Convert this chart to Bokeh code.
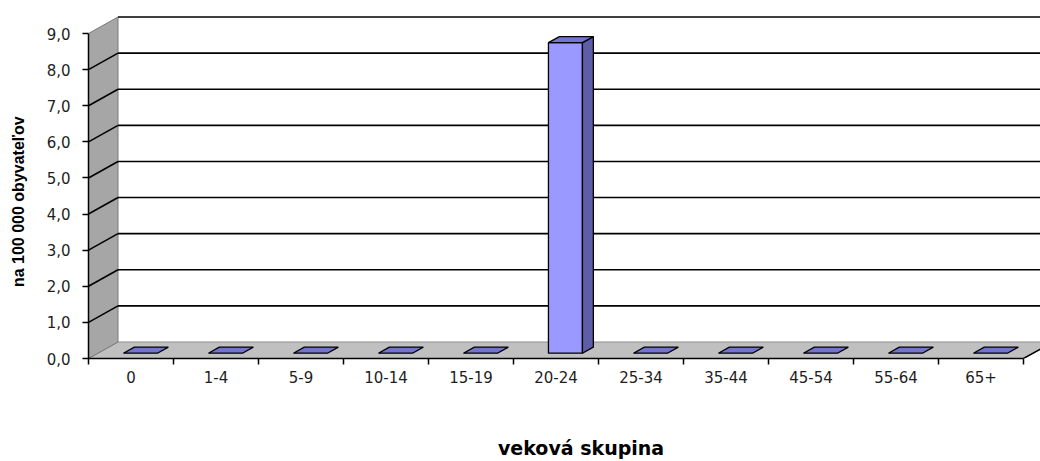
from bokeh.plotting import figure
from bokeh.models import Range1d, FixedTicker, LinearAxis
from bokeh.embed import file_html
from bokeh.resources import INLINE

# ---------------- data ----------------
categories = ["0", "1-4", "5-9", "10-14", "15-19", "20-24",
              "25-34", "35-44", "45-54", "55-64", "65+"]
values = [0, 0, 0, 0, 0, 8.6, 0, 0, 0, 0, 0]
y_ticks = [0, 1, 2, 3, 4, 5, 6, 7, 8, 9]
y_tick_labels = ["0,0", "1,0", "2,0", "3,0", "4,0", "5,0",
                 "6,0", "7,0", "8,0", "9,0"]
y_title = "na 100 000 obyvateľov"
x_title = "veková skupina"

# ---------------- layout ----------------
W, H = 1040, 461
B_LEFT, B_BOTTOM = 88, 103
PX_CAT = 85.0          # pixels per category
PX_UNIT = 36.11        # pixels per value unit
frame_w = W - B_LEFT
frame_h = H - B_BOTTOM

n = len(categories)
x0, x1 = -0.5, n - 0.5
ymin, ymax = y_ticks[0], y_ticks[-1]
DX = 29.5 / PX_CAT     # depth offset (oblique projection)
DY = 16.5 / PX_UNIT
BW = 0.40              # bar width (categories)
F_FRONT, F_BACK = 0.32, 0.69   # bar depth fractions
NBSP = "\u00a0"

p = figure(width=W, height=H,
           x_range=Range1d(x0, x0 + frame_w / PX_CAT),
           y_range=Range1d(ymin, ymin + frame_h / PX_UNIT),
           output_backend="svg", toolbar_location=None,
           min_border_left=B_LEFT, min_border_right=0,
           min_border_top=0, min_border_bottom=B_BOTTOM)
p.outline_line_color = None
p.xgrid.visible = False
p.ygrid.visible = False
p.background_fill_color = "white"

WALL = "#A6A6A6"
FLOOR = "#C0C0C0"

# floor
p.patch([x0, x1, x1 + DX, x0 + DX], [ymin, ymin, ymin + DY, ymin + DY],
        fill_color=FLOOR, line_color="#8C8C8C", line_width=1)
p.segment(x0=[x1], y0=[ymin], x1=[x1 + DX], y1=[ymin + DY],
          line_color="black", line_width=1.5)

# left wall
p.patch([x0, x0 + DX, x0 + DX, x0], [ymin, ymin + DY, ymax + DY, ymax],
        fill_color=WALL, line_color="#7A7A7A", line_width=1)

# back-wall gridlines and wall diagonals
far = x0 + frame_w / PX_CAT + 1
grid_vals = [t for t in y_ticks if t > ymin]
p.segment(x0=[x0 + DX] * len(grid_vals), y0=[t + DY for t in grid_vals],
          x1=[far] * len(grid_vals), y1=[t + DY for t in grid_vals],
          line_color="black", line_width=1.6)
diag_vals = [t for t in y_ticks if ymin < t < ymax]
p.segment(x0=[x0] * len(diag_vals), y0=diag_vals,
          x1=[x0 + DX] * len(diag_vals), y1=[t + DY for t in diag_vals],
          line_color="black", line_width=1.6)

# bars
FRONT_C, TOP_C, SIDE_C = "#9999FF", "#7474D0", "#5E5EA8"
fx, fy = DX * F_FRONT, DY * F_FRONT
bx, by = DX * F_BACK, DY * F_BACK
ddx, ddy = bx - fx, by - fy
front_xs, front_ys, top_xs, top_ys, side_xs, side_ys = [], [], [], [], [], []
for i, v in enumerate(values):
    l = i - BW / 2 + fx
    r = i + BW / 2 + fx
    top_xs.append([l, r, r + ddx, l + ddx])
    top_ys.append([v + fy, v + fy, v + by, v + by])
    if v > 0:
        front_xs.append([l, r, r, l])
        front_ys.append([fy, fy, v + fy, v + fy])
        side_xs.append([r, r + ddx, r + ddx, r])
        side_ys.append([fy, by, v + by, v + fy])
p.patches(front_xs, front_ys, fill_color=FRONT_C, line_color="black", line_width=1.3)
p.patches(side_xs, side_ys, fill_color=SIDE_C, line_color="black", line_width=1.3)
p.patches(top_xs, top_ys, fill_color=TOP_C, line_color="black", line_width=1.3)

# y axis
ya = p.yaxis[0]
ya.ticker = FixedTicker(ticks=y_ticks, minor_ticks=[])
ya.bounds = (ymin, ymax)
ya.major_label_overrides = {t: s for t, s in zip(y_ticks, y_tick_labels)}
ya.axis_line_color = "black"
ya.axis_line_width = 1.5
ya.major_tick_line_color = "black"
ya.major_tick_line_width = 1.5
ya.major_tick_out = 6
ya.major_tick_in = 0
ya.major_label_standoff = 12
ya.major_label_text_font = "DejaVu Sans"
ya.major_label_text_font_size = "15px"
ya.major_label_text_color = "#1E1E1E"
# trailing no-break spaces move the (frame-centred) title down to where the reference has it
ya.axis_label = y_title + NBSP * 10
ya.axis_label_standoff = 17
ya.axis_label_text_font = "Liberation Sans"
ya.axis_label_text_font_style = "bold"
ya.axis_label_text_font_size = "16px"
ya.axis_label_text_color = "black"

# x axis
xa = p.xaxis[0]
centers = list(range(n))
boundaries = [c - 0.5 for c in centers] + [n - 0.5]
xa.ticker = FixedTicker(ticks=centers, minor_ticks=boundaries)
xa.bounds = (x0, x1)
xa.major_label_overrides = {c: s for c, s in zip(centers, categories)}
xa.axis_line_color = "black"
xa.axis_line_width = 1.5
xa.major_tick_out = 0
xa.major_tick_in = 0
xa.minor_tick_out = 6
xa.minor_tick_in = 0
xa.minor_tick_line_color = "black"
xa.minor_tick_line_width = 1.5
xa.major_label_standoff = 6
xa.major_label_text_font = "DejaVu Sans"
xa.major_label_text_font_size = "15px"
xa.major_label_text_color = "#1E1E1E"

# x title carried by a bare second axis placed under the tick labels
xt = LinearAxis(ticker=FixedTicker(ticks=[], minor_ticks=[]),
                axis_line_color=None, major_tick_line_color=None,
                minor_tick_line_color=None, major_tick_out=0, minor_tick_out=0,
                major_label_text_font_size="0px",
                axis_label=NBSP * 5 + x_title, axis_label_standoff=51,
                axis_label_text_font="DejaVu Sans",
                axis_label_text_font_style="bold",
                axis_label_text_font_size="19px",
                axis_label_text_color="black")
p.add_layout(xt, "below")

open("out.html", "w").write(file_html(p, INLINE))
